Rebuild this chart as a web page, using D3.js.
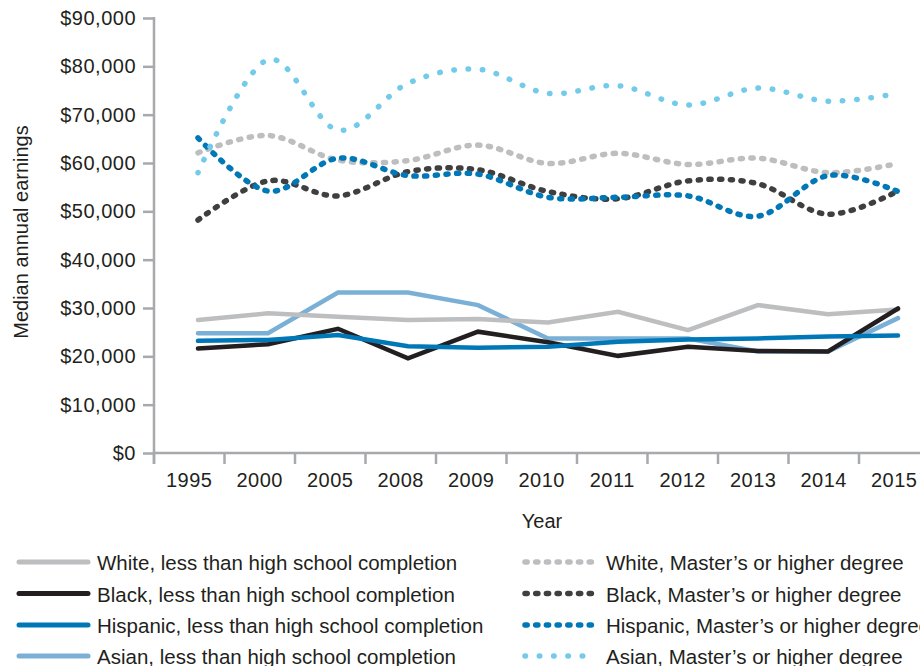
<!DOCTYPE html>
<html><head><meta charset="utf-8">
<script src="https://cdn.jsdelivr.net/npm/d3@7"></script>
<style>
body{margin:0;background:#fff}
text{font-family:"Liberation Sans",Arial,sans-serif;fill:#231f20}
</style>
</head><body>
<svg id="c" width="920" height="666"></svg>
<script>
const years = ["1995","2000","2005","2008","2009","2010","2011","2012","2013","2014","2015"];
const whiteLess      = [27500,28900,28200,27500,27700,27000,29200,25400,30600,28700,29700];
const blackLess      = [21600,22500,25700,19600,25100,22900,20100,22000,21100,21000,29900];
const hispanicLess   = [23200,23400,24400,22100,21800,22000,23000,23500,23700,24100,24300];
const asianLess      = [24800,24800,33200,33200,30600,23700,23700,23700,21000,21000,27900];
const whiteMaster    = [62100,65700,60600,60500,63700,59900,62000,59700,61000,58000,59900];
const blackMaster    = [48200,56300,53200,58200,58600,54100,52600,56300,55700,49400,54200];
const hispanicMaster = [65200,54200,61000,57400,57700,52900,52900,53200,49000,57400,54100];
const asianMaster    = [58000,81400,66800,76500,79400,74400,76000,72000,75500,72800,74400];
const yTicks = [0,10000,20000,30000,40000,50000,60000,70000,80000,90000];
const seriesNames = [
  "White, less than high school completion",
  "Black, less than high school completion",
  "Hispanic, less than high school completion",
  "Asian, less than high school completion",
  "White, Master\u2019s or higher degree",
  "Black, Master\u2019s or higher degree",
  "Hispanic, Master\u2019s or higher degree",
  "Asian, Master\u2019s or higher degree"
];
const seriesValues = [whiteLess, blackLess, hispanicLess, asianLess, whiteMaster, blackMaster, hispanicMaster, asianMaster];
const colors = ["#bdbec0","#231f20","#0078b8","#7ab0d6","#bdbec0","#3f3f40","#0078b8","#72cbea"];
const dotted = [false,false,false,false,true,true,true,true];

const svg = d3.select("#c");
const axisColor = "#a7a9ac";
const xBand = d3.scaleBand().domain(years).range([154, 929.5]);
const xPt = d3.scalePoint().domain(years).range([198, 898]);
const y = d3.scaleLinear().domain([0, 90000]).range([453, 18]);

// y axis
const ya = svg.append("g").attr("transform","translate(154,0)")
  .call(d3.axisLeft(y).tickValues(yTicks).tickSize(11).tickPadding(7).tickFormat(d3.format("$,")));
ya.select(".domain").remove();
ya.selectAll(".tick line").attr("stroke", axisColor).attr("stroke-width", 2.5);
ya.selectAll(".tick text").style("font-size","20px").style("letter-spacing","0.5px").attr("fill","#231f20");

// x axis labels
const xa = svg.append("g").attr("transform","translate(0,453)")
  .call(d3.axisBottom(xBand).tickSize(0).tickPadding(20));
xa.select(".domain").remove();
xa.selectAll(".tick text").style("font-size","20px").style("letter-spacing","0.5px").attr("fill","#231f20");
// x ticks at band boundaries
const bounds = years.map(d => xBand(d)).concat([xBand.range()[1]]);
svg.append("g").selectAll("line").data(bounds).join("line")
  .attr("x1", d => d).attr("x2", d => d).attr("y1", 453).attr("y2", 464)
  .attr("stroke", axisColor).attr("stroke-width", 2.5);
// axis lines
svg.append("line").attr("x1",154).attr("x2",154).attr("y1",17).attr("y2",464).attr("stroke",axisColor).attr("stroke-width",2.5);
svg.append("line").attr("x1",154).attr("x2",920).attr("y1",453).attr("y2",453).attr("stroke",axisColor).attr("stroke-width",2.5);

// axis titles
svg.append("text").attr("transform","translate(28,232) rotate(-90)").attr("text-anchor","middle")
  .style("font-size","20px").text("Median annual earnings");
svg.append("text").attr("x",542).attr("y",528).attr("text-anchor","middle")
  .style("font-size","20px").text("Year");

function styleLine(sel, i) {
  sel.attr("fill","none").attr("stroke", colors[i]).attr("stroke-linecap","round");
  if (!dotted[i]) {
    sel.attr("stroke-width", 4.5).attr("stroke-linejoin","miter");
  } else if (i === 7) {
    sel.attr("stroke-width", 5.5).attr("stroke-dasharray","0.5 13.8");
  } else {
    sel.attr("stroke-width", 5.5).attr("stroke-dasharray","2.2 8.5");
  }
}

const straight = d3.line().x((d,j) => xPt(years[j])).y(d => y(d));
const smooth = d3.line().x((d,j) => xPt(years[j])).y(d => y(d)).curve(d3.curveCardinal);
const order = [3,0,1,2,4,5,6,7];
order.forEach(i => {
  const p = svg.append("path").attr("d", (dotted[i] ? smooth : straight)(seriesValues[i]));
  styleLine(p, i);
});

// legend
const rowY = [562, 593.5, 625, 656];
seriesNames.forEach((name, i) => {
  const col = i < 4 ? 0 : 1;
  const r = i % 4;
  const x0 = col === 0 ? 19 : 525;
  const x1 = col === 0 ? 88 : 593;
  const tx = col === 0 ? 97 : 606;
  const p = svg.append("path").attr("d", d3.line()([[x0, rowY[r]], [x1, rowY[r]]]));
  styleLine(p, i);
  if (!dotted[i]) p.attr("stroke-width", 5);
  svg.append("text").attr("x", tx).attr("y", rowY[r] + 8).style("font-size","20.5px").text(name);
});
</script>
</body></html>
